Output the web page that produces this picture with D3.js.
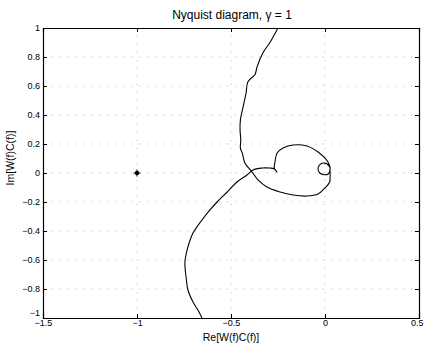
<!DOCTYPE html>
<html>
<head>
<meta charset="utf-8">
<script src="https://cdn.jsdelivr.net/npm/d3@7"></script>
<style>
body { margin: 0; background: #fff; }
text { font-family: "Liberation Sans", Arial, sans-serif; fill: #000; }
</style>
</head>
<body>
<svg id="chart" width="424" height="349"></svg>
<script>
let re = [-0.25, -0.293, -0.33, -0.362, -0.372, -0.41, -0.42, -0.436, -0.45, -0.452, -0.448, -0.45,
    -0.44, -0.426, -0.388, -0.356, -0.309, -0.239, -0.17, -0.096, -0.037, 0, 0.025, 0.027, 0.027,
    0.024, -0.005, -0.03, -0.037, -0.028, -0.005, 0.018, 0.027, 0.022, 0.005, -0.037, -0.096, -0.17,
    -0.223, -0.255, -0.266, -0.27, -0.255, -0.272, -0.293, -0.335, -0.383, -0.415, -0.468, -0.52,
    -0.574, -0.612, -0.654, -0.702, -0.729, -0.745, -0.739, -0.729, -0.702, -0.676, -0.654];
let im = [1.0, 0.9, 0.83, 0.73, 0.68, 0.63, 0.55, 0.455, 0.365, 0.3, 0.23, 0.17,
    0.138, 0.069, 0.007, -0.048, -0.097, -0.131, -0.152, -0.159, -0.145, -0.103, -0.062, -0.03, 0.0,
    0.045, 0.069, 0.055, 0.028, 0.0, -0.012, -0.005, 0.028, 0.06, 0.095, 0.145, 0.186, 0.193,
    0.172, 0.138, 0.076, 0.034, 0.007, 0.03, 0.034, 0.034, 0.021, -0.014, -0.062, -0.131,
    -0.2, -0.255, -0.324, -0.414, -0.51, -0.614, -0.717, -0.807, -0.89, -0.945, -1.0];
let critical = [[-1, 0]];
let xTicks = [-1.5, -1, -0.5, 0, 0.5];
let yTicks = [-1, -0.8, -0.6, -0.4, -0.2, 0, 0.2, 0.4, 0.6, 0.8, 1];

let svg = d3.select("#chart");
let margin = {top: 28, right: 5, bottom: 31, left: 43};
let w = 424 - margin.left - margin.right,
    h = 349 - margin.top - margin.bottom;

let x = d3.scaleLinear().domain([-1.5, 0.5]).range([0, w]);
let y = d3.scaleLinear().domain([-1, 1]).range([h, 0]);

let g = svg.append("g").attr("transform", "translate(" + margin.left + "," + margin.top + ")");

// dotted grid
g.selectAll(".gx").data(xTicks.slice(1, -1)).enter().append("line")
    .attr("x1", x).attr("x2", x).attr("y1", 0).attr("y2", h)
    .attr("stroke", "#aaa").attr("stroke-width", 0.8).attr("stroke-dasharray", "1,7");
g.selectAll(".gy").data(yTicks.slice(1, -1)).enter().append("line")
    .attr("y1", y).attr("y2", y).attr("x1", 0).attr("x2", w)
    .attr("stroke", "#aaa").attr("stroke-width", 0.8).attr("stroke-dasharray", "1,7");

let fmt = d => d3.format("")(d);

// axes, ticks pointing inward
let xa = g.append("g").attr("transform", "translate(0," + h + ")")
    .call(d3.axisBottom(x).tickValues(xTicks).tickSize(-4).tickPadding(2).tickFormat(fmt));
let ya = g.append("g")
    .call(d3.axisLeft(y).tickValues(yTicks).tickSize(-4).tickPadding(3).tickFormat(fmt));
g.append("g")
    .call(d3.axisTop(x).tickValues(xTicks).tickSize(-4).tickFormat(""));
g.append("g").attr("transform", "translate(" + w + ",0)")
    .call(d3.axisRight(y).tickValues(yTicks).tickSize(-4).tickFormat(""));

g.selectAll(".domain").attr("stroke", "#000").attr("stroke-width", 1.2);
g.selectAll(".tick line").attr("stroke", "#000");
g.selectAll(".tick text").style("font-size", "9px").style("font-family", "Liberation Sans, Arial, sans-serif");
// lift the -1 label so it sits above -1.5, like the original
ya.selectAll(".tick text").filter(d => d === -1).attr("dy", "-0.3em");
// last x label would run off the right edge
xa.selectAll(".tick text").filter(d => d === 0.5).attr("text-anchor", "end").attr("dx", 4);

// curve
let pts = re.map((d, i) => [d, im[i]]);
let line = d3.line().x(d => x(d[0])).y(d => y(d[1])).curve(d3.curveCatmullRom);
g.append("path").datum(pts)
    .attr("d", line).attr("fill", "none").attr("stroke", "#000").attr("stroke-width", 1.1);

// -1 point marker
g.selectAll(".crit").data(critical).enter().append("circle")
    .attr("cx", d => x(d[0])).attr("cy", d => y(d[1])).attr("r", 2.2).attr("fill", "#000");
g.selectAll(".critx").data(critical).enter().append("path")
    .attr("transform", d => "translate(" + x(d[0]) + "," + y(d[1]) + ")")
    .attr("d", "M-3.5,0H3.5M0,-3.5V3.5").attr("stroke", "#000").attr("stroke-width", 1);

// labels
svg.append("text").attr("x", 232).attr("y", 19).attr("text-anchor", "middle")
    .style("font-size", "12px").text("Nyquist diagram, γ = 1");
svg.append("text").attr("x", 231).attr("y", 341).attr("text-anchor", "middle")
    .style("font-size", "10.5px").text("Re[W(f)C(f)]");
svg.append("text").attr("transform", "translate(14,158) rotate(-90)").attr("text-anchor", "middle")
    .style("font-size", "10.5px").text("Im[W(f)C(f)]");
</script>
</body>
</html>
